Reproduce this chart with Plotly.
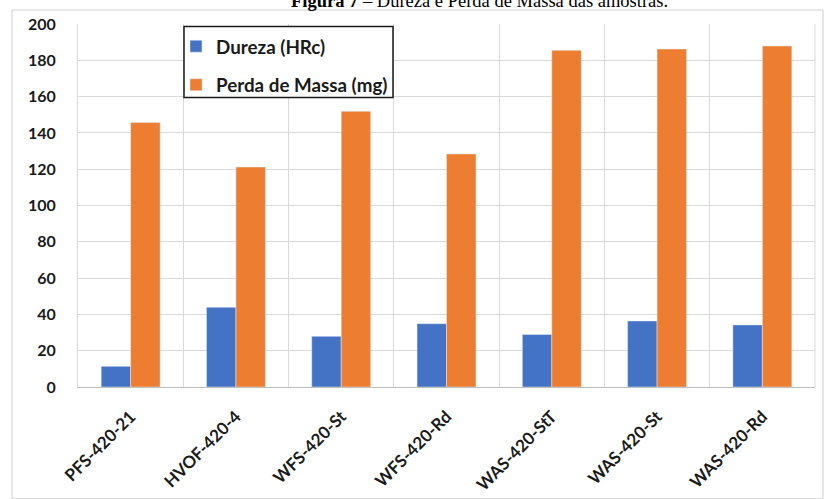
import plotly.graph_objects as go

# Sample identifiers and measured properties
amostras = ["PFS-420-21", "HVOF-420-4", "WFS-420-St", "WFS-420-Rd",
            "WAS-420-StT", "WAS-420-St", "WAS-420-Rd"]
dureza_hrc = [11.4, 43.9, 27.9, 34.9, 28.9, 36.4, 34.2]
perda_massa_mg = [145.7, 121.2, 151.9, 128.4, 185.5, 186.2, 187.9]
y_ticks = [0, 20, 40, 60, 80, 100, 120, 140, 160, 180, 200]

AZUL = "#4472C4"
LARANJA = "#ED7D31"
FONTE = "Lato"

fig = go.Figure()
fig.add_trace(go.Bar(x=amostras, y=dureza_hrc, name="Dureza (HRc)",
                     marker_color=AZUL, legendgroup="a"))
fig.add_trace(go.Bar(x=amostras, y=perda_massa_mg, name="Perda de Massa (mg)",
                     marker_color=LARANJA, legendgroup="b"))

W, H = 824, 499
ml, mr, mt, mb = 78, 9, 23.5, 112.3
pw = W - ml - mr
ph = H - mt - mb

def px_x(x):
    return (x - ml) / pw

def px_y(y):
    return (H - mb - y) / ph

fig.update_layout(
    width=W, height=H,
    margin=dict(l=ml, r=mr, t=mt, b=mb, pad=0, autoexpand=False),
    paper_bgcolor="white", plot_bgcolor="white",
    barmode="group", bargap=0.44, bargroupgap=0,
    font=dict(family=FONTE, color="#262626"),
    legend=dict(
        x=px_x(176), y=px_y(27), xanchor="left", yanchor="top",
        bgcolor="rgba(0,0,0,0)", borderwidth=0,
        font=dict(family=FONTE, size=18.8, color="#1a1a1a", weight="bold"),
        tracegroupgap=11, itemwidth=30,
    ),
    xaxis=dict(
        type="category", tickson="boundaries", automargin=False,
        showgrid=True, gridcolor="#d9d9d9", gridwidth=1,
        showline=True, linecolor="#bfbfbf", linewidth=1,
        ticks="", tickangle=-45, ticklabelstandoff=12,
        tickfont=dict(family=FONTE, size=17, color="#1a1a1a", weight="bold"),
        mirror=False,
    ),
    yaxis=dict(
        range=[0, 200], tickvals=y_ticks, automargin=False,
        showgrid=True, gridcolor="#d9d9d9", gridwidth=1,
        showline=True, linecolor="#d9d9d9", linewidth=1,
        zeroline=False, ticks="", ticklabelstandoff=18,
        tickfont=dict(family=FONTE, size=16, color="#1a1a1a", weight="bold"),
    ),
    shapes=[
        # outer chart frame
        dict(type="rect", xref="paper", yref="paper",
             x0=px_x(12), x1=px_x(823), y0=px_y(498.5), y1=px_y(9.5),
             line=dict(color="#d0d0d0", width=1), layer="below"),
        # right edge of the plot area
        dict(type="line", xref="paper", yref="paper",
             x0=1, x1=1, y0=0, y1=1,
             line=dict(color="#d9d9d9", width=1)),
        # legend box
        dict(type="rect", xref="paper", yref="paper",
             x0=px_x(184), x1=px_x(393), y0=px_y(97), y1=px_y(26),
             fillcolor="white", line=dict(color="#1a1a1a", width=1.5),
             layer="above"),
    ],
    annotations=[
        dict(text="<b>Figura 7</b> – Dureza e Perda de Massa das amostras.",
             xref="paper", yref="paper", x=px_x(480), y=px_y(0),
             xanchor="center", yanchor="bottom", yshift=-12, showarrow=False,
             font=dict(family="Liberation Serif", size=18.5, color="black")),
    ],
)

fig.write_html("out.html")
